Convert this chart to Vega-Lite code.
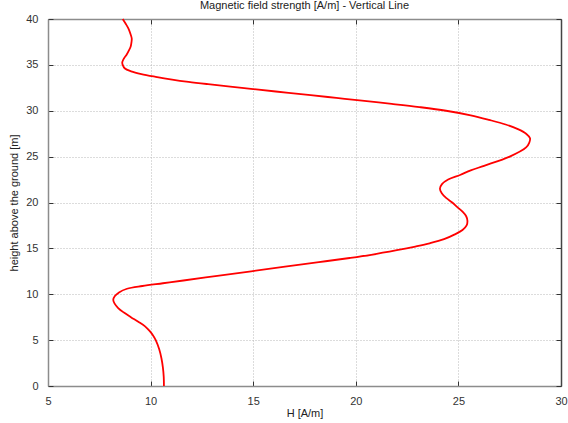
{
  "$schema": "https://vega.github.io/schema/vega-lite/v6.json",
  "width": 513,
  "height": 367,
  "autosize": "none",
  "padding": {"left": 48, "top": 19, "right": 7, "bottom": 37},
  "background": "white",
  "config": {
    "view": {"stroke": null},
    "font": "Liberation Sans",
    "axis": {
      "labelFont": "Liberation Sans",
      "titleFont": "Liberation Sans",
      "labelFontSize": 11,
      "titleFontSize": 11,
      "titleFontWeight": "normal",
      "labelColor": "#333333",
      "titleColor": "#222222",
      "domainColor": "#8c8c8c",
      "domainWidth": 1.5,
      "tickColor": "#333333",
      "tickSize": -5,
      "gridColor": "#b8b8b8",
      "gridDash": [1, 2],
      "gridWidth": 1
    },
    "title": {"font": "Liberation Sans", "fontSize": 11, "fontWeight": "normal", "color": "#222222", "offset": 2}
  },
  "title": {"text": "Magnetic field strength [A/m] - Vertical Line", "anchor": "middle"},
  "data": {
    "values": [
      {"h": 0, "H": 10.65}, {"h": 1, "H": 10.64}, {"h": 2, "H": 10.6}, {"h": 3, "H": 10.53},
      {"h": 4, "H": 10.42}, {"h": 5, "H": 10.25}, {"h": 5.5, "H": 10.12}, {"h": 6, "H": 9.95},
      {"h": 6.5, "H": 9.73}, {"h": 7, "H": 9.4}, {"h": 7.5, "H": 9.04}, {"h": 8, "H": 8.7},
      {"h": 8.5, "H": 8.42}, {"h": 9, "H": 8.24}, {"h": 9.4, "H": 8.18}, {"h": 9.8, "H": 8.26},
      {"h": 10.2, "H": 8.46}, {"h": 10.6, "H": 8.85}, {"h": 10.9, "H": 9.6}, {"h": 11.2, "H": 10.6},
      {"h": 11.5, "H": 11.6}, {"h": 12.0, "H": 13.25}, {"h": 12.5, "H": 14.9}, {"h": 13.0, "H": 16.55},
      {"h": 13.5, "H": 18.2}, {"h": 13.95, "H": 19.7}, {"h": 14.3, "H": 20.75}, {"h": 14.8, "H": 22.0},
      {"h": 15.2, "H": 22.9}, {"h": 15.55, "H": 23.6}, {"h": 16.0, "H": 24.3}, {"h": 16.5, "H": 24.8},
      {"h": 17.0, "H": 25.2}, {"h": 17.5, "H": 25.4}, {"h": 18.0, "H": 25.44}, {"h": 18.5, "H": 25.38},
      {"h": 19.0, "H": 25.2}, {"h": 19.5, "H": 24.95}, {"h": 20.0, "H": 24.7}, {"h": 20.5, "H": 24.4},
      {"h": 21.0, "H": 24.19}, {"h": 21.5, "H": 24.1}, {"h": 22.0, "H": 24.2}, {"h": 22.5, "H": 24.5},
      {"h": 23.0, "H": 25.08}, {"h": 23.5, "H": 25.6}, {"h": 24.0, "H": 26.25}, {"h": 25.0, "H": 27.5},
      {"h": 26.0, "H": 28.3}, {"h": 26.5, "H": 28.45}, {"h": 27.0, "H": 28.49}, {"h": 27.5, "H": 28.3},
      {"h": 28.0, "H": 27.9}, {"h": 28.5, "H": 27.3}, {"h": 29.0, "H": 26.5}, {"h": 29.5, "H": 25.6},
      {"h": 30.0, "H": 24.4}, {"h": 30.4, "H": 23.1}, {"h": 30.75, "H": 21.75}, {"h": 31.1, "H": 20.3},
      {"h": 31.4, "H": 19.05}, {"h": 31.7, "H": 17.8}, {"h": 32.1, "H": 16.1}, {"h": 32.5, "H": 14.45},
      {"h": 32.9, "H": 12.8}, {"h": 33.15, "H": 11.85}, {"h": 33.4, "H": 11.05}, {"h": 33.7, "H": 10.25},
      {"h": 34.0, "H": 9.55}, {"h": 34.3, "H": 9.05}, {"h": 34.6, "H": 8.75}, {"h": 35.0, "H": 8.64},
      {"h": 35.3, "H": 8.62}, {"h": 35.7, "H": 8.7}, {"h": 36.1, "H": 8.83}, {"h": 36.6, "H": 8.95},
      {"h": 37.0, "H": 9.03}, {"h": 37.5, "H": 9.07}, {"h": 37.9, "H": 9.08}, {"h": 38.5, "H": 9.0},
      {"h": 39.0, "H": 8.91}, {"h": 39.5, "H": 8.78}, {"h": 40.0, "H": 8.64}
    ]
  },
  "layer": [
    {
      "mark": {"type": "line", "color": "#ff0000", "strokeWidth": 1.8, "interpolate": "catmull-rom"},
      "encoding": {
        "x": {"field": "H", "type": "quantitative", "scale": {"domain": [5, 30], "nice": false, "zero": false},
              "axis": {"title": "H [A/m]", "values": [5, 10, 15, 20, 25, 30], "grid": true, "labelPadding": 14, "titlePadding": 1, "labelFlush": false}},
        "y": {"field": "h", "type": "quantitative", "scale": {"domain": [0, 40], "nice": false},
              "axis": {"title": "height above the ground [m]", "values": [0, 5, 10, 15, 20, 25, 30, 35, 40], "grid": true, "labelPadding": 15, "titlePadding": 6, "labelFlush": false}},
        "order": {"field": "h", "type": "quantitative"}
      }
    },
    {
      "mark": {"type": "line", "opacity": 0},
      "encoding": {
        "x": {"field": "H", "type": "quantitative",
              "axis": {"orient": "top", "title": null, "labels": false, "grid": false, "values": [5, 10, 15, 20, 25, 30]}},
        "y": {"field": "h", "type": "quantitative",
              "axis": {"orient": "right", "title": null, "labels": false, "grid": false, "domainColor": "#444444", "values": [0, 5, 10, 15, 20, 25, 30, 35, 40]}},
        "order": {"field": "h", "type": "quantitative"}
      }
    }
  ],
  "resolve": {"axis": {"x": "independent", "y": "independent"}}
}
